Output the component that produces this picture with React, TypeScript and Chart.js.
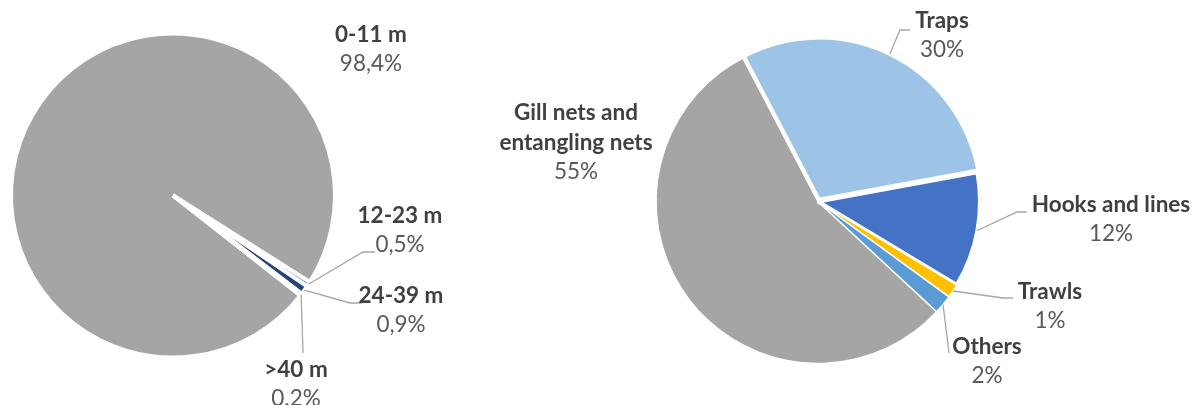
import { useEffect, useRef } from "react";
import { Chart, registerables } from "chart.js";

Chart.register(...registerables);

// ---- Data: vessel length classes (left pie) ----
const lengthCategories = ["0-11 m", "12-23 m", "24-39 m", ">40 m"];
const lengthShares = [98.4, 0.5, 0.9, 0.2];
const lengthShareLabels = ["98,4%", "0,5%", "0,9%", "0.2%"];
const lengthColors = ["#A5A5A5", "#5B9BD5", "#264478", "#FFFFFF"];

// ---- Data: fishing gear (right pie) ----
const gearCategories = [["Gill nets and", "entangling nets"], ["Traps"], ["Hooks and lines"], ["Trawls"], ["Others"]];
const gearShares = [55.4, 29.8, 11.5, 1.4, 1.9];
const gearShareLabels = gearShares.map((v) => Math.round(v) + "%");
const gearColors = ["#A5A5A5", "#9DC3E6", "#4472C4", "#FFC000", "#5B9BD5"];

// ---- Layout (label placement, page pixels) ----
type LabelLayout = { x: number; y: number; path: number[][] | null };
const lengthLabelLayout: LabelLayout[] = [
  { x: 371, y: 35, path: null },
  { x: 400, y: 216, path: [[363, 252], [375, 252]] },
  { x: 401, y: 296, path: [[350, 303], [362, 303]] },
  { x: 296, y: 370, path: [[303, 353]] },
];
const gearLabelLayout: LabelLayout[] = [
  { x: 576, y: 113, path: null },
  { x: 942, y: 21, path: [[900, 30], [910, 30]] },
  { x: 1111, y: 205, path: [[1017, 212], [1027, 212]] },
  { x: 1050, y: 292, path: [[1003, 298], [1013, 298]] },
  { x: 987, y: 347, path: [[949, 353]] },
];

const W = 1193;
const H = 405;
const LINE = 30;
const FONT = "Lato, 'Open Sans', sans-serif";
const FS = 22.5;

function makeLabelPlugin(names: string[][], pcts: string[], layout: LabelLayout[]) {
  return {
    id: "pieLabels",
    afterDatasetsDraw(chart: any) {
      const ctx: CanvasRenderingContext2D = chart.ctx;
      const meta = chart.getDatasetMeta(0);
      ctx.save();
      meta.data.forEach((arc: any, i: number) => {
        const lay = layout[i];
        if (!lay) return;
        const p = arc.getProps(["x", "y", "startAngle", "endAngle", "outerRadius"], true);
        const off = (arc.options.offset || 0) / 4;
        const mid = (p.startAngle + p.endAngle) / 2;
        if (lay.path) {
          const r = p.outerRadius + off;
          ctx.beginPath();
          ctx.moveTo(p.x + Math.cos(mid) * r, p.y + Math.sin(mid) * r);
          lay.path.forEach((pt) => ctx.lineTo(pt[0], pt[1]));
          ctx.strokeStyle = "#A6A6A6";
          ctx.lineWidth = 1.3;
          ctx.stroke();
        }
        ctx.textAlign = "center";
        ctx.textBaseline = "middle";
        let y = lay.y;
        ctx.font = `bold ${FS}px ${FONT}`;
        ctx.fillStyle = "#404040";
        names[i].forEach((t) => {
          ctx.fillText(t, lay.x, y);
          y += LINE;
        });
        ctx.font = `${FS}px ${FONT}`;
        ctx.fillStyle = "#595959";
        ctx.fillText(pcts[i], lay.x, y - 1);
      });
      ctx.restore();
    },
  };
}

export default function App() {
  const leftRef = useRef<HTMLCanvasElement>(null);
  const rightRef = useRef<HTMLCanvasElement>(null);

  useEffect(() => {
    const left = new Chart(leftRef.current!, {
      type: "pie",
      data: {
        labels: lengthCategories,
        datasets: [
          {
            data: lengthShares,
            backgroundColor: lengthColors,
            borderColor: "#FFFFFF",
            borderWidth: 4,
          },
        ],
      },
      options: {
        responsive: false,
        animation: false,
        rotation: 128.1,
        radius: 162,
        layout: { padding: { left: 11, right: W - 173 - 162, top: 33.5, bottom: H - 195.5 - 162 } },
        plugins: { legend: { display: false }, tooltip: { enabled: false } },
        events: [],
      },
      plugins: [makeLabelPlugin(lengthCategories.map((c) => [c]), lengthShareLabels, lengthLabelLayout)],
    } as any);

    const right = new Chart(rightRef.current!, {
      type: "pie",
      data: {
        labels: gearCategories.map((c) => c.join(" ")),
        datasets: [
          {
            data: gearShares,
            backgroundColor: gearColors,
            borderColor: "#FFFFFF",
            borderWidth: [1.5, 4, 4, 1.5, 1.5],
            offset: [0, 8, 0, 0, 0],
          },
        ],
      },
      options: {
        responsive: false,
        animation: false,
        rotation: 132.9,
        radius: 162,
        layout: { padding: { left: 818 - 162, right: W - 818 - 162, top: 201.5 - 162, bottom: H - 201.5 - 162 } },
        plugins: { legend: { display: false }, tooltip: { enabled: false } },
        events: [],
      },
      plugins: [makeLabelPlugin(gearCategories, gearShareLabels, gearLabelLayout)],
    } as any);

    return () => {
      left.destroy();
      right.destroy();
    };
  }, []);

  const cs: React.CSSProperties = { position: "absolute", left: 0, top: 0, width: W, height: H };
  return (
    <div style={{ position: "fixed", left: 0, top: 0, width: W, height: H, background: "#fff" }}>
      <canvas ref={leftRef} width={W} height={H} style={cs} />
      <canvas ref={rightRef} width={W} height={H} style={cs} />
    </div>
  );
}
